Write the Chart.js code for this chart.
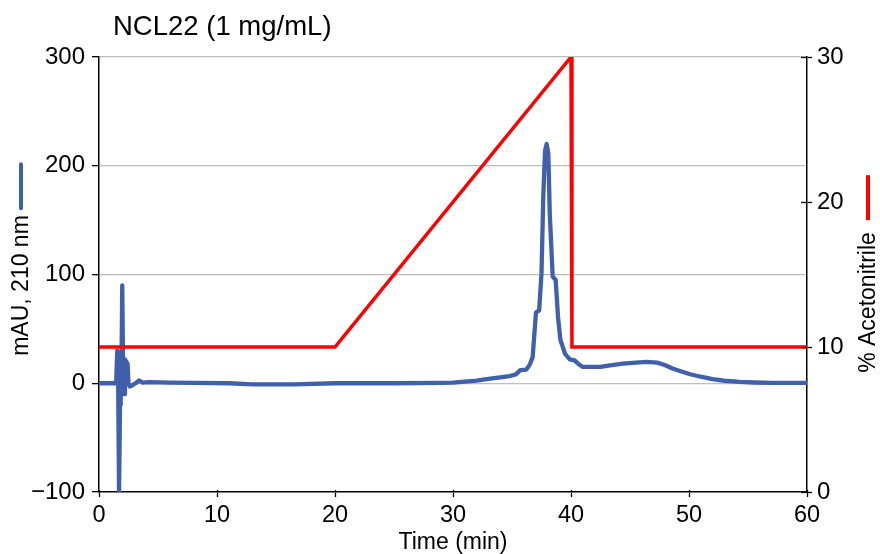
<!DOCTYPE html>
<html>
<head>
<meta charset="utf-8">
<script src="https://cdn.jsdelivr.net/npm/chart.js@4"></script>
<style>
html,body{margin:0;padding:0;background:#fff;}
canvas{display:block;}
</style>
</head>
<body>
<canvas id="c" width="880" height="554"></canvas>
<script>
const chartTitle = "NCL22 (1 mg/mL)";
const xTitle = "Time (min)";
const yLeftTitle = "mAU, 210 nm";
const yRightTitle = "% Acetonitrile";

const blueTime = [0, 1.45, 1.55, 1.62, 1.7, 1.78, 1.84, 1.9, 1.97, 2.04, 2.12, 2.2, 2.3, 2.42, 2.5, 2.6, 2.8, 3.1, 3.4, 3.7, 4.2, 6, 8, 11, 13, 16.5, 20, 25, 29, 30, 31, 32, 33, 34, 34.8, 35.3, 35.7, 36.2, 36.5, 36.75, 37.03, 37.3, 37.5, 37.65, 37.8, 37.94, 38.08, 38.2, 38.45, 38.7, 38.9, 39.1, 39.5, 39.9, 40.3, 40.6, 41.0, 42.5, 43.3, 44.4, 45.5, 46.4, 47.3, 48, 48.6, 49.3, 50.1, 51, 52, 53, 54.3, 55.5, 57.1, 60];
const blueMAU  = [0, 0, 30, 5, -100, -20, 25, 10, 90, 15, -10, 22, 20, 18, 0, -3, -2, 0, 2.5, 0.5, 1, 0.5, 0.3, 0, -1, -1, 0, 0, 0.3, 0.5, 1.5, 2.5, 4, 5.5, 6.5, 8, 12, 12.5, 17, 24, 65, 67, 101, 171, 214, 220, 211, 156, 98, 95, 61, 40, 27, 22, 21, 18, 15, 15, 16.5, 18, 19, 19.6, 19, 16.5, 13.5, 11, 8.3, 6, 3.7, 2.3, 1.2, 0.7, 0.3, 0.3];

const redTime = [0, 20, 40, 40.08, 60];
const redPct  = [10, 10, 30, 10, 10];

const xTicks = [0, 10, 20, 30, 40, 50, 60];
const yLeftTicks = [-100, 0, 100, 200, 300];
const yRightTicks = [0, 10, 20, 30];

const FONT = '"Liberation Sans", Arial, Helvetica, sans-serif';
const BLUE = '#4060AB';
const RED = '#FF0000';

const decor = {
  id: 'decor',
  afterDraw(chart) {
    const ctx = chart.ctx;
    const ca = chart.chartArea;
    ctx.save();
    // chart title
    ctx.fillStyle = '#000';
    ctx.font = '27.5px ' + FONT;
    ctx.textAlign = 'left';
    ctx.textBaseline = 'alphabetic';
    ctx.fillText(chartTitle, 113, 35);

    // left axis title with blue dash
    ctx.font = '23px ' + FONT;
    ctx.textBaseline = 'middle';
    let w = ctx.measureText(yLeftTitle).width;
    let gap = 7, dash = 44;
    let total = w + gap + dash;
    let start = 260 + total / 2;
    ctx.save();
    ctx.translate(22, start);
    ctx.rotate(-Math.PI / 2);
    ctx.fillText(yLeftTitle, 0, 0);
    ctx.strokeStyle = BLUE; ctx.lineWidth = 4; ctx.lineCap = 'round';
    ctx.beginPath(); ctx.moveTo(w + gap, -1); ctx.lineTo(w + gap + dash, -1); ctx.stroke();
    ctx.restore();

    // right axis title with red dash
    w = ctx.measureText(yRightTitle).width;
    gap = 12; dash = 45;
    total = w + gap + dash;
    start = 274 + total / 2;
    ctx.save();
    ctx.translate(869, start);
    ctx.rotate(-Math.PI / 2);
    ctx.fillText(yRightTitle, 0, 0);
    ctx.strokeStyle = RED; ctx.lineWidth = 4; ctx.lineCap = 'butt';
    ctx.beginPath(); ctx.moveTo(w + gap, -1); ctx.lineTo(w + gap + dash, -1); ctx.stroke();
    ctx.restore();

    // inner tick parts (crossing ticks)
    ctx.strokeStyle = '#000'; ctx.lineWidth = 1.3;
    const y1 = chart.scales.y1;
    y1.ticks.forEach(t => {
      const py = Math.round(y1.getPixelForValue(t.value)) + 0.5;
      ctx.beginPath(); ctx.moveTo(ca.right, py); ctx.lineTo(ca.right - 6, py); ctx.stroke();
    });
    const xs = chart.scales.x;
    xs.ticks.forEach(t => {
      const px = Math.round(xs.getPixelForValue(t.value)) + 0.5;
      ctx.beginPath(); ctx.moveTo(px, ca.bottom); ctx.lineTo(px, ca.bottom - 2); ctx.stroke();
    });
    ctx.restore();
  }
};

new Chart(document.getElementById('c'), {
  type: 'line',
  data: {
    datasets: [
      {
        label: yRightTitle,
        data: redTime.map((t, i) => ({x: t, y: redPct[i]})),
        yAxisID: 'y1',
        borderColor: RED,
        borderWidth: 3.5,
        pointRadius: 0,
        tension: 0,
        borderJoinStyle: 'miter'
      },
      {
        label: yLeftTitle,
        data: blueTime.map((t, i) => ({x: t, y: blueMAU[i]})),
        yAxisID: 'y',
        borderColor: BLUE,
        borderWidth: 4.3,
        pointRadius: 0,
        tension: 0,
        borderJoinStyle: 'round',
        borderCapStyle: 'round'
      }
    ]
  },
  options: {
    responsive: false,
    animation: false,
    devicePixelRatio: 1,
    layout: { padding: { top: 57, left: 0, right: 0, bottom: 0 } },
    plugins: { legend: { display: false }, tooltip: { enabled: false }, title: { display: false } },
    scales: {
      x: {
        type: 'linear', position: 'bottom', min: 0, max: 60,
        afterBuildTicks: s => { s.ticks = xTicks.map(v => ({value: v})); },
        afterFit: s => { s.height = 62; },
        ticks: { color: '#000', font: { family: FONT, size: 23.5 }, padding: 4, maxRotation: 0 },
        grid: { display: true, drawOnChartArea: false, drawTicks: true, tickLength: 5, tickColor: '#000', tickWidth: 1.3 },
        border: { display: true, color: '#000', width: 1.5 },
        title: { display: true, text: xTitle, color: '#000', font: { family: FONT, size: 23, lineHeight: 1 }, padding: { top: 0, bottom: 0 } }
      },
      y: {
        type: 'linear', position: 'left', min: -100, max: 300,
        afterBuildTicks: s => { s.ticks = yLeftTicks.map(v => ({value: v})); },
        afterFit: s => { s.width = 99; },
        ticks: { color: '#000', font: { family: FONT, size: 24 }, padding: 7, callback: v => (v < 0 ? '\u2212' + Math.abs(v) : String(v)) },
        grid: {
          color: c => (c.tick && c.tick.value === -100 ? 'rgba(0,0,0,0)' : '#BDBDBD'),
          lineWidth: 1.3, tickColor: '#000', tickLength: 7, tickWidth: 1.3
        },
        border: { display: true, color: '#000', width: 1.5 }
      },
      y1: {
        type: 'linear', position: 'right', min: 0, max: 30,
        afterBuildTicks: s => { s.ticks = yRightTicks.map(v => ({value: v})); },
        afterFit: s => { s.width = 73; },
        ticks: { color: '#000', font: { family: FONT, size: 24 }, padding: 5 },
        grid: { display: true, drawOnChartArea: false, drawTicks: true, tickLength: 5, tickColor: '#000', tickWidth: 1.3 },
        border: { display: true, color: '#000', width: 1.5 }
      }
    }
  },
  plugins: [decor]
});
</script>
</body>
</html>
